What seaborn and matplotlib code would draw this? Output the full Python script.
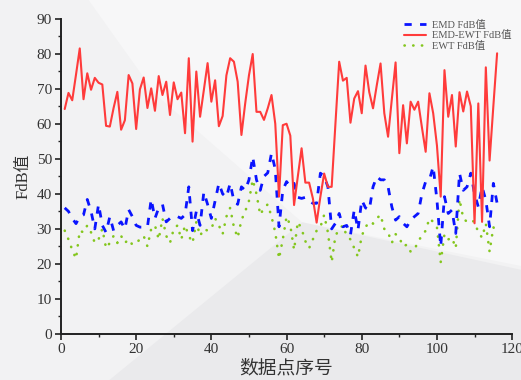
import numpy as np
import pandas as pd
import matplotlib
matplotlib.use("Agg")
import matplotlib.pyplot as plt
from matplotlib.patches import Polygon
from matplotlib.ticker import MultipleLocator
import seaborn as sns

# Sample index along the x axis
idx = list(range(1, 117))

# FdB values of the combined EMD-EWT method
emd_ewt = [64.2, 68.8, 66.7, 74.0, 81.5, 67.0, 74.4, 69.7, 73.1, 71.7,
           71.2, 59.4, 59.2, 64.5, 69.1, 58.3, 61.0, 73.9, 71.5, 58.5,
           69.8, 73.2, 64.5, 70.1, 63.7, 73.6, 68.2, 72.0, 62.5, 71.8,
           67.0, 68.9, 57.3, 78.7, 54.9, 74.9, 62.0, 69.6, 77.3, 66.3,
           72.4, 59.3, 62.2, 73.8, 78.7, 77.7, 72.0, 56.8, 65.8, 73.8,
           79.9, 63.4, 63.4, 61.1, 64.4, 68.2, 60.0, 39.2, 59.6, 60.0,
           56.6, 36.8, 45.0, 53.0, 43.2, 43.2, 38.7, 31.8, 39.2, 45.8,
           42.0, 42.0, 60.0, 77.7, 72.3, 73.1, 60.3, 67.2, 69.3, 63.0,
           76.6, 69.0, 64.4, 71.0, 77.2, 63.0, 56.3, 67.0, 77.5, 51.6,
           65.3, 54.4, 66.3, 64.0, 66.3, 59.0, 52.0, 68.7, 63.0, 53.8,
           39.2, 75.3, 62.0, 68.2, 53.5, 69.0, 63.5, 69.2, 65.0, 31.6,
           65.8, 32.0, 76.1, 49.5, 65.0, 80.1]

# FdB values of plain EMD
emd = [36.0, 35.0, 33.0, 31.5, 33.5, 34.0, 38.4, 35.0, 30.0, 37.0,
       31.0, 29.0, 33.5, 29.5, 31.0, 32.0, 30.0, 35.5, 33.5, 31.0,
       30.5, 30.5, 30.5, 38.5, 33.0, 36.0, 37.0, 32.0, 33.0, 33.5,
       33.5, 33.0, 34.0, 42.0, 29.5, 35.0, 31.0, 40.5, 37.0, 33.0,
       38.0, 43.0, 40.0, 39.0, 43.0, 38.0, 37.0, 42.0, 41.0, 44.0,
       50.6, 44.0, 41.0, 45.0, 46.0, 51.6, 47.0, 30.6, 41.0, 43.5,
       42.0, 43.0, 39.0, 38.7, 39.0, 38.0, 37.3, 37.3, 45.9, 45.0,
       42.0, 30.0, 31.6, 34.4, 30.6, 31.0, 28.3, 35.4, 29.7, 38.2,
       36.0, 35.4, 42.0, 44.9, 44.0, 44.0, 42.0, 36.3, 32.5, 33.5,
       31.6, 30.6, 32.5, 33.5, 34.4, 40.0, 43.5, 44.0, 47.8, 38.2,
       25.0, 39.2, 34.4, 35.4, 28.7, 45.9, 41.0, 42.0, 45.9, 40.0,
       36.3, 42.0, 38.2, 30.6, 43.0, 37.3]

# FdB values of plain EWT
ewt = [29.5, 27.0, 24.0, 21.5, 29.5, 29.0, 31.0, 29.0, 26.0, 27.0,
       30.0, 24.5, 26.0, 28.0, 26.0, 28.0, 26.0, 27.0, 25.5, 26.0,
       27.0, 28.0, 25.0, 30.0, 31.0, 27.0, 33.0, 28.0, 26.0, 30.0,
       31.0, 27.0, 31.0, 28.0, 26.0, 32.0, 28.0, 30.0, 29.5, 30.0,
       33.0, 31.0, 28.5, 33.5, 36.0, 30.5, 27.5, 32.5, 35.0, 38.0,
       44.0, 40.0, 34.0, 36.0, 37.0, 33.5, 29.0, 21.5, 27.0, 33.5,
       31.0, 24.0, 32.0, 30.0, 26.5, 24.5, 27.0, 29.5, 30.5, 34.0,
       29.0, 20.5, 28.0, 30.0, 31.0, 28.0, 27.0, 24.5, 22.0, 28.0,
       30.5, 32.0, 31.5, 33.0, 34.0, 30.0, 29.0, 26.0, 28.5, 27.5,
       25.0, 25.5, 23.5, 24.0, 26.5, 28.0, 29.5, 33.0, 32.0, 30.5,
       20.5, 28.5, 27.0, 27.5, 24.5, 38.5, 33.0, 32.0, 32.5, 32.0,
       29.0, 27.5, 31.5, 23.5, 30.5, 28.5]

labels = ["EMD FdB值", "EMD-EWT FdB值", "EWT FdB值"]
x_ticks = [0, 20, 40, 60, 80, 100, 120]
y_ticks = [0, 10, 20, 30, 40, 50, 60, 70, 80, 90]

sns.set_theme(style="ticks")
plt.rcParams["font.family"] = ["Liberation Serif", "Noto Sans CJK SC"]

fig = plt.figure(figsize=(5.21, 3.80), dpi=100, facecolor="#f2f2f3")

# soft grey backdrop shapes behind the axes
fig.patches.append(Polygon([(0.17, 1.0), (1.0, 1.0), (1.0, 0.30), (0.58, 0.415), (0.30, 0.75)],
                           closed=True, transform=fig.transFigure,
                           facecolor="#f7f7f8", edgecolor="none", zorder=-10))
fig.patches.append(Polygon([(0.21, 0.0), (0.58, 0.415), (1.0, 0.29), (1.0, 0.0)],
                           closed=True, transform=fig.transFigure,
                           facecolor="#eaeaec", edgecolor="none", zorder=-10))

ax = fig.add_axes([0.117, 0.121, 0.866, 0.830])
ax.set_facecolor("none")
ax.set_zorder(1)

sns.lineplot(x=idx, y=ewt, ax=ax, color="#84c61e", linewidth=1.9,
             linestyle=(0, (0.1, 3.2)), dash_capstyle="round",
             label=labels[2], zorder=2)
sns.lineplot(x=idx, y=emd, ax=ax, color="#0a14ff", linewidth=2.0,
             linestyle=(0, (2.6, 3.0)), label=labels[0], zorder=3)
sns.lineplot(x=idx, y=emd_ewt, ax=ax, color="#ff3b3b", linewidth=1.5,
             label=labels[1], zorder=4)

ax.set_xlim(0, 120)
ax.set_ylim(0, 90)
ax.set_xticks(x_ticks)
ax.set_yticks(y_ticks)
ax.xaxis.set_minor_locator(MultipleLocator(10))
ax.yaxis.set_minor_locator(MultipleLocator(5))
ax.tick_params(axis="both", which="major", direction="out", length=4.5, width=1.2,
               labelsize=11, colors="#222222", pad=2)
ax.tick_params(axis="both", which="minor", direction="out", length=2.5, width=1.0,
               colors="#222222")
for lab in ax.get_xticklabels() + ax.get_yticklabels():
    lab.set_color("#333333")

for side in ("top", "right"):
    ax.spines[side].set_visible(False)
for side in ("left", "bottom"):
    ax.spines[side].set_linewidth(1.4)
    ax.spines[side].set_color("#222222")

ax.set_xlabel("数据点序号", fontsize=13.5, color="#333333", labelpad=3)
ax.set_ylabel("FdB值", fontsize=12, color="#333333", labelpad=4)

handles, lbls = ax.get_legend_handles_labels()
order = [lbls.index(l) for l in labels]
leg = ax.legend([handles[i] for i in order], [lbls[i] for i in order],
                loc="upper left", bbox_to_anchor=(0.75, 1.01), frameon=False,
                fontsize=7.5, handlelength=2.2, handletextpad=0.5,
                labelspacing=0.05, borderaxespad=0.0)
for t in leg.get_texts():
    t.set_color("#555555")

fig.savefig("out.png", dpi=100, facecolor=fig.get_facecolor())
